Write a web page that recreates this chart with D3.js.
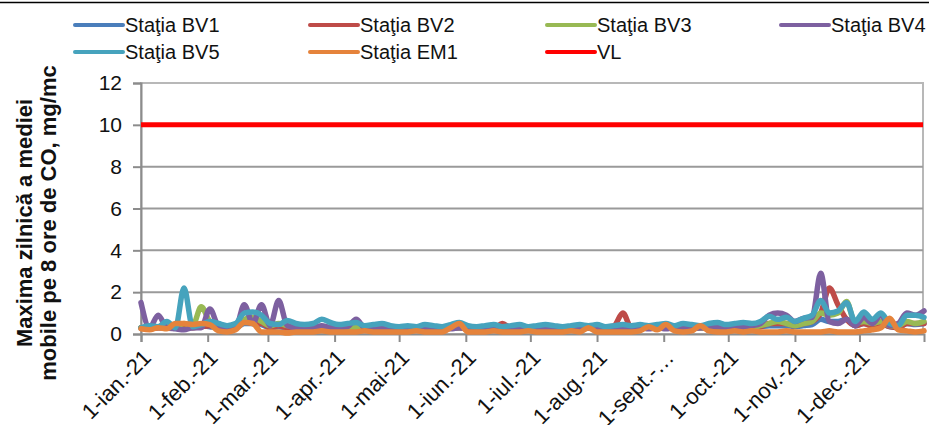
<!DOCTYPE html>
<html>
<head>
<meta charset="utf-8">
<script src="https://cdn.jsdelivr.net/npm/d3@7"></script>
<style>
  body { margin: 0; background: #fff; }
  svg { display: block; font-family: "Liberation Sans", Arial, sans-serif; }
</style>
</head>
<body>
<div id="chart"></div>
<script>
var w = 929;
var h = 425;

// one value every 4 days, starting 1 Jan 2021
var startDate = new Date(2021, 0, 1);
var endDate = new Date(2021, 11, 31);
var stepDays = 4;

var bv1 = [0.3, 0.3, 0.3, 0.35, 0.3, 0.4, 0.3, 0.4, 0.35, 0.3,
           0.3, 0.3, 0.5, 0.5, 0.45, 0.3, 0.35, 0.3, 0.3, 0.3,
           0.3, 0.35, 0.3, 0.3, 0.3, 0.3, 0.3, 0.3, 0.3, 0.3,
           0.3, 0.3, 0.3, 0.3, 0.3, 0.3, 0.3, 0.3, 0.3, 0.3,
           0.3, 0.3, 0.3, 0.3, 0.3, 0.3, 0.3, 0.3, 0.3, 0.3,
           0.3, 0.3, 0.3, 0.3, 0.3, 0.3, 0.3, 0.3, 0.3, 0.3,
           0.3, 0.3, 0.3, 0.3, 0.3, 0.3, 0.3, 0.3, 0.3, 0.3,
           0.3, 0.3, 0.35, 0.4, 0.4, 0.4, 0.35, 0.4, 0.45, 0.7,
           0.6, 0.6, 0.7, 0.4, 0.5, 0.4, 0.5, 0.35, 0.3, 0.5,
           0.45, 0.5];
var bv2 = [0.3, 0.25, 0.3, 0.3, 0.35, 0.4, 0.3, 0.35, 0.4, 0.3,
           0.3, 0.3, 0.6, 0.5, 0.5, 0.3, 0.4, 0.3, 0.3, 0.3,
           0.3, 0.3, 0.3, 0.25, 0.3, 0.3, 0.25, 0.3, 0.3, 0.25,
           0.3, 0.3, 0.25, 0.3, 0.3, 0.25, 0.3, 0.3, 0.25, 0.3,
           0.3, 0.3, 0.5, 0.3, 0.3, 0.25, 0.3, 0.3, 0.25, 0.3,
           0.3, 0.25, 0.3, 0.3, 0.3, 0.4, 1.0, 0.3, 0.3, 0.3,
           0.3, 0.3, 0.25, 0.3, 0.3, 0.3, 0.3, 0.3, 0.3, 0.3,
           0.3, 0.3, 0.35, 0.5, 0.5, 0.5, 0.4, 0.5, 0.6, 1.0,
           2.2, 1.4, 0.7, 0.4, 0.5, 0.4, 0.5, 0.35, 0.3, 0.5,
           0.5, 0.5];
var bv3 = [0.3, 0.3, 0.35, 0.4, 0.35, 0.5, 0.4, 1.3, 0.6, 0.4,
           0.35, 0.4, 0.7, 0.8, 0.6, 0.4, 0.5, 0.4, 0.35, 0.3,
           0.3, 0.35, 0.3, 0.3, 0.3, 0.3, 0.3, 0.3, 0.3, 0.3,
           0.3, 0.3, 0.3, 0.3, 0.3, 0.3, 0.3, 0.3, 0.3, 0.3,
           0.3, 0.3, 0.3, 0.3, 0.3, 0.3, 0.3, 0.3, 0.3, 0.3,
           0.3, 0.3, 0.3, 0.3, 0.3, 0.3, 0.3, 0.3, 0.3, 0.3,
           0.3, 0.3, 0.3, 0.3, 0.3, 0.3, 0.35, 0.3, 0.3, 0.3,
           0.35, 0.3, 0.4, 0.5, 0.6, 0.5, 0.4, 0.5, 0.6, 1.0,
           0.9, 1.0, 1.55, 0.5, 0.6, 0.5, 0.6, 0.4, 0.4, 0.6,
           0.5, 0.6];
var bv4 = [1.5, 0.3, 0.9, 0.3, 0.25, 0.2, 0.3, 0.3, 1.2, 0.4,
           0.3, 0.3, 1.4, 0.5, 1.4, 0.4, 1.6, 0.4, 0.3, 0.3,
           0.3, 0.4, 0.3, 0.3, 0.35, 0.7, 0.3, 0.25, 0.3, 0.25,
           0.25, 0.3, 0.25, 0.3, 0.25, 0.3, 0.25, 0.3, 0.25, 0.3,
           0.25, 0.3, 0.25, 0.3, 0.25, 0.3, 0.3, 0.25, 0.3, 0.25,
           0.3, 0.25, 0.3, 0.25, 0.3, 0.25, 0.3, 0.25, 0.3, 0.25,
           0.3, 0.25, 0.3, 0.3, 0.25, 0.3, 0.3, 0.35, 0.3, 0.3,
           0.35, 0.4, 0.5, 0.9, 1.0, 0.9, 0.6, 0.75, 0.8, 2.9,
           0.6, 0.5, 0.7, 0.4, 0.8, 0.5, 0.9, 0.4, 0.5, 1.0,
           0.9, 1.1];
var bv5 = [0.3, 0.4, 0.35, 0.6, 0.3, 2.2, 0.35, 0.45, 0.6, 0.5,
           0.4, 0.5, 1.0, 1.05, 0.9, 0.5, 0.45, 0.65, 0.5, 0.45,
           0.5, 0.7, 0.55, 0.45, 0.5, 0.55, 0.4, 0.45, 0.5, 0.4,
           0.35, 0.4, 0.35, 0.45, 0.4, 0.35, 0.45, 0.55, 0.4, 0.35,
           0.4, 0.45, 0.35, 0.4, 0.45, 0.35, 0.4, 0.45, 0.4, 0.35,
           0.4, 0.45, 0.4, 0.45, 0.35, 0.4, 0.45, 0.4, 0.45, 0.4,
           0.45, 0.5, 0.4, 0.5, 0.45, 0.4, 0.5, 0.55, 0.45, 0.5,
           0.55, 0.5, 0.6, 0.85, 0.7, 0.8, 0.6, 0.75, 0.9, 1.6,
           1.0, 1.1, 1.5, 0.6, 1.05, 0.7, 1.0, 0.5, 0.4, 0.9,
           0.9, 0.8];
var em1 = [0.25, 0.2, 0.3, 0.25, 0.5, 0.5, 0.45, 0.5, 0.45, 0.15,
           0.1, 0.2, 0.55, 0.5, 0.1, 0.1, 0.1, 0.05, 0.1, 0.1,
           0.1, 0.15, 0.1, 0.1, 0.1, 0.1, 0.15, 0.1, 0.1, 0.1,
           0.1, 0.1, 0.15, 0.1, 0.1, 0.1, 0.3, 0.5, 0.1, 0.1,
           0.1, 0.15, 0.1, 0.1, 0.1, 0.15, 0.1, 0.1, 0.1, 0.1,
           0.15, 0.1, 0.3, 0.1, 0.1, 0.1, 0.1, 0.1, 0.15, 0.35,
           0.2, 0.45, 0.15, 0.1, 0.15, 0.4, 0.15, 0.1, 0.1, 0.15,
           0.1, 0.15, 0.1, 0.1, 0.1, 0.15, 0.1, 0.1, 0.1, 0.1,
           0.15, 0.1, 0.1, 0.1, 0.15, 0.2, 0.3, 0.75, 0.2, 0.15,
           0.1, 0.15];
var vl = 10;

var seriesNames = ["Staţia BV1", "Staţia BV2", "Staţia BV3", "Staţia BV4", "Staţia BV5", "Staţia EM1"];
var seriesValues = [bv1, bv2, bv3, bv4, bv5, em1];
var seriesColors = ["#4a7ebb", "#be4b48", "#98b954", "#7d60a0", "#46a3bd", "#e5833b"];
var vlColor = "#ff0000";

var yTicks = [0, 2, 4, 6, 8, 10, 12];
var xTickLabels = ["1-ian.-21", "1-feb.-21", "1-mar.-21", "1-apr.-21", "1-mai-21", "1-iun.-21",
                   "1-iul.-21", "1-aug.-21", "1-sept.-…", "1-oct.-21", "1-nov.-21", "1-dec.-21"];

var plotLeft = 141, plotRight = 923, plotTop = 83, plotBottom = 334;

var xScale = d3.scaleTime()
               .domain([startDate, endDate])
               .range([plotLeft, plotRight + 1]);
var yScale = d3.scaleLinear()
               .domain([0, 12])
               .range([plotBottom, plotTop]);

var svg = d3.select("#chart")
            .append("svg")
            .attr("width", w)
            .attr("height", h);

// top frame line
svg.append("line")
   .attr("x1", 0).attr("x2", w)
   .attr("y1", 2.5).attr("y2", 2.5)
   .attr("stroke", "#000")
   .attr("stroke-width", 1.5);

// plot area border
svg.append("rect")
   .attr("x", plotLeft).attr("y", plotTop)
   .attr("width", plotRight - plotLeft).attr("height", plotBottom - plotTop)
   .attr("fill", "none")
   .attr("stroke", "#b8b8b8")
   .attr("stroke-width", 2);

// gridlines
svg.append("g")
   .selectAll("line")
   .data(yTicks.filter(function(d) { return d > 0 && d < 12; }))
   .enter()
   .append("line")
   .attr("x1", plotLeft).attr("x2", plotRight)
   .attr("y1", function(d) { return yScale(d); })
   .attr("y2", function(d) { return yScale(d); })
   .attr("stroke", "#9a9a9a")
   .attr("stroke-width", 2);

// y axis
var yAxis = d3.axisLeft(yScale).tickValues(yTicks).tickSize(8).tickPadding(11);
var gy = svg.append("g").attr("transform", "translate(" + plotLeft + ",0)").call(yAxis);
gy.select(".domain").attr("stroke", "#8c8c8c").attr("stroke-width", 2);
gy.selectAll(".tick line").attr("stroke", "#8c8c8c").attr("stroke-width", 2);
gy.selectAll(".tick text")
  .attr("font-size", "21px")
  .attr("font-family", "Liberation Sans, Arial, sans-serif")
  .attr("fill", "#111");

// x axis
var monthStarts = d3.timeMonth.range(startDate, endDate);
var xAxis = d3.axisBottom(xScale)
              .tickValues(monthStarts)
              .tickSize(8)
              .tickFormat(function(d, i) { return xTickLabels[i]; });
var gx = svg.append("g").attr("transform", "translate(0," + plotBottom + ")").call(xAxis);
gx.select(".domain").attr("stroke", "#8c8c8c").attr("stroke-width", 2);
gx.selectAll(".tick line").attr("stroke", "#8c8c8c").attr("stroke-width", 2);
gx.selectAll(".tick text")
  .attr("font-size", "22px")
  .attr("font-family", "Liberation Sans, Arial, sans-serif")
  .attr("fill", "#111")
  .attr("text-anchor", "end")
  .attr("dy", 0)
  .attr("transform", "translate(11,25) rotate(-45)")
  .attr("x", 0)
  .attr("y", 0);

// series lines
var line = d3.line()
             .x(function(d, i) { return xScale(d3.timeDay.offset(startDate, i * stepDays)); })
             .y(function(d) { return yScale(d); })
             .curve(d3.curveMonotoneX);

svg.append("g")
   .selectAll("path")
   .data(seriesValues)
   .enter()
   .append("path")
   .attr("d", function(d) { return line(d); })
   .attr("fill", "none")
   .attr("stroke", function(d, i) { return seriesColors[i]; })
   .attr("stroke-width", 5.5)
   .attr("stroke-linejoin", "round")
   .attr("stroke-linecap", "round");

// limit value line
svg.append("line")
   .attr("x1", xScale(startDate)).attr("x2", plotRight)
   .attr("y1", yScale(vl)).attr("y2", yScale(vl))
   .attr("stroke", vlColor)
   .attr("stroke-width", 5);

// legend
var legendItems = seriesNames.map(function(n, i) { return { name: n, color: seriesColors[i] }; });
legendItems.push({ name: "VL", color: vlColor });
var legendX = [75, 310, 547, 781];
var legendY = [25, 52];

var lg = svg.append("g")
            .selectAll("g")
            .data(legendItems)
            .enter()
            .append("g")
            .attr("transform", function(d, i) {
                return "translate(" + legendX[i % 4] + "," + legendY[Math.floor(i / 4)] + ")";
            });
lg.append("line")
  .attr("x1", 0).attr("x2", 48)
  .attr("stroke", function(d) { return d.color; })
  .attr("stroke-width", 4)
  .attr("stroke-linecap", "round");
lg.append("text")
  .attr("x", 50)
  .attr("dy", "0.36em")
  .attr("font-size", "20px")
  .attr("fill", "#111")
  .text(function(d) { return d.name; });

// y axis title
var yTitle = svg.append("text")
                .attr("transform", "rotate(-90)")
                .attr("text-anchor", "middle")
                .attr("font-size", "22px")
                .attr("font-weight", "bold")
                .attr("fill", "#111");
yTitle.append("tspan").attr("x", -223).attr("y", 32).text("Maxima zilnică a mediei");
yTitle.append("tspan").attr("x", -223).attr("y", 56).text("mobile pe 8 ore de CO, mg/mc");
</script>
</body>
</html>
